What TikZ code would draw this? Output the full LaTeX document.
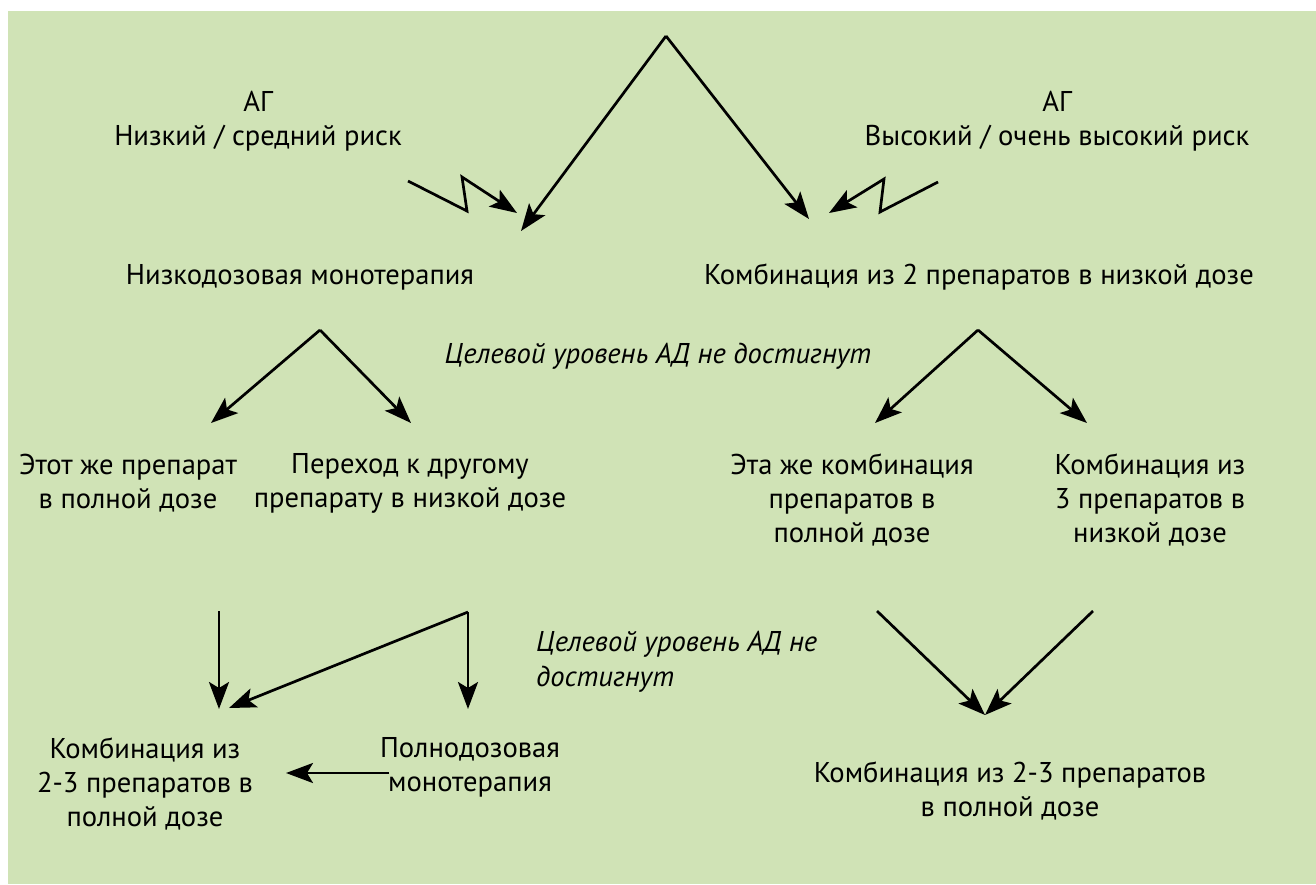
\documentclass[tikz,border=0pt]{standalone}
\usepackage{fontspec}
\setmainfont{PT Sans}
\usetikzlibrary{arrows.meta}
\definecolor{bgreen}{RGB}{208,227,182}
\tikzset{
  txt/.style={align=center, inner sep=0pt, font=\fontsize{28.6}{34}\selectfont},
  itxt/.style={inner sep=0pt, font=\fontsize{28.6}{35}\selectfont\itshape},
  arr/.style={line width=2.7pt, -{Stealth[length=27pt,width=20pt,inset=6pt]}, line join=miter},
}
\begin{document}
\begin{tikzpicture}[x=1pt,y=-1pt]
\useasboundingbox (0,0) rectangle (1316,884);
\fill[bgreen] (8,11) rectangle (1316,884);

% texts
\node[txt] (ag1) at (258,121) {АГ\\Низкий / средний риск};
\node[txt] (ag2) at (1057,121) {АГ\\Высокий / очень высокий риск};
\node[txt] (mono) at (300,277) {Низкодозовая монотерапия};
\node[txt] (comb2) at (979,277) {Комбинация из 2 препаратов в низкой дозе};
\node[itxt] (goal1) at (658,356) {Целевой уровень АД не достигнут};
\node[txt] (same) at (128,483) {Этот же препарат\\в полной дозе};
\node[txt] (other) at (410,483) {Переход к другому\\препарату в низкой дозе};
\node[txt] (samec) at (852,500) {Эта же комбинация\\препаратов в\\полной дозе};
\node[txt] (comb3) at (1150,500) {Комбинация из\\3 препаратов в\\низкой дозе};
\node[itxt, align=left, anchor=west] (goal2) at (536,662) {Целевой уровень АД не\\достигнут};
\node[txt] (full23a) at (145,784) {Комбинация из\\2-3 препаратов в\\полной дозе};
\node[txt] (fullmono) at (470,767) {Полнодозовая\\монотерапия};
\node[txt] (full23b) at (1010,791) {Комбинация из 2-3 препаратов\\в полной дозе};

% coordinates
\coordinate (top) at (666,36);
\coordinate (t1) at (521,231);
\coordinate (t2) at (809,219);
\coordinate (z1a) at (408,181);
\coordinate (z1b) at (467,211);
\coordinate (z1c) at (462,177);
\coordinate (z1d) at (517,213);
\coordinate (z2a) at (938,182);
\coordinate (z2b) at (880,212);
\coordinate (z2c) at (884,179);
\coordinate (z2d) at (829,213);
\coordinate (ap1) at (320,330);
\coordinate (l1) at (211,423);
\coordinate (r1) at (411,423);
\coordinate (ap2) at (978,330);
\coordinate (l2) at (875,423);
\coordinate (r2) at (1087,423);
\coordinate (v1s) at (219,611);
\coordinate (v1e) at (219,709);
\coordinate (v2s) at (468,612);
\coordinate (v2e) at (468,709);
\coordinate (de) at (229,708);
\coordinate (hs) at (389,773);
\coordinate (he) at (286,773);
\coordinate (b1) at (877,611);
\coordinate (b2) at (1093,611);
\coordinate (bm) at (985,715);

% connectors
\draw[arr] (top) -- (t1);
\draw[arr] (top) -- (t2);
\draw[arr] (z1a) -- (z1b) -- (z1c) -- (z1d);
\draw[arr] (z2a) -- (z2b) -- (z2c) -- (z2d);
\draw[arr] (ap1) -- (l1);
\draw[arr] (ap1) -- (r1);
\draw[arr] (ap2) -- (l2);
\draw[arr] (ap2) -- (r2);
\draw[arr] (v1s) -- (v1e);
\draw[arr] (v2s) -- (v2e);
\draw[arr] (v2s) -- (de);
\draw[arr] (hs) -- (he);
\draw[arr] (b1) -- (bm);
\draw[arr] (b2) -- (bm);
\end{tikzpicture}
\end{document}
